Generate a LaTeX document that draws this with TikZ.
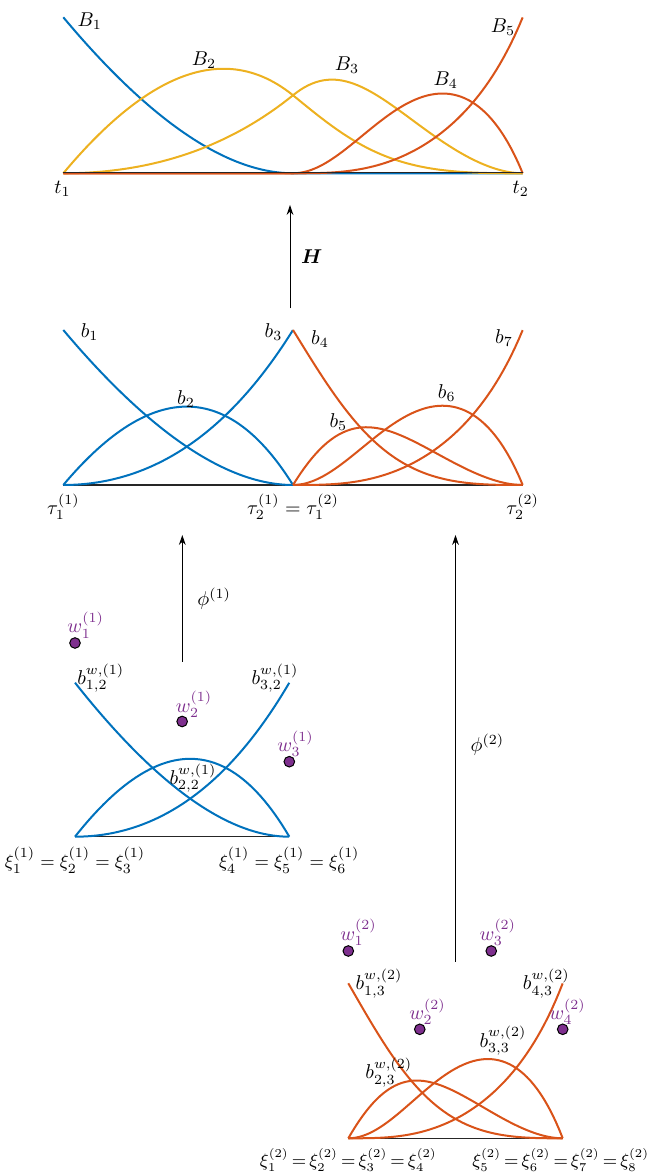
\documentclass[tikz,border=0pt]{standalone}
\usepackage{amsmath,amssymb}
\usepackage{tikz}
\usetikzlibrary{positioning,arrows.meta,calc}
\definecolor{mblue}{RGB}{0,114,189}
\definecolor{morange}{RGB}{217,83,25}
\definecolor{myellow}{RGB}{237,177,32}
\definecolor{mpurple}{RGB}{126,47,142}
\newcommand{\tighteq}{\thickmuskip=3mu\relax}
% rational Bernstein bases (degree 2 and degree 3)
\tikzset{declare function={
  dl(\x)=(1-\x)*(1-\x)+1.76*\x*(1-\x)+0.74*\x*\x;
  qa(\x)=(1-\x)*(1-\x)/dl(\x);
  qb(\x)=1.76*\x*(1-\x)/dl(\x);
  qc(\x)=0.74*\x*\x/dl(\x);
  dr(\x)=(1-\x)*(1-\x)*(1-\x)+2.4*\x*(1-\x)*(1-\x)+3.6*\x*\x*(1-\x)+\x*\x*\x;
  ca(\x)=(1-\x)*(1-\x)*(1-\x)/dr(\x);
  cb(\x)=2.4*\x*(1-\x)*(1-\x)/dr(\x);
  cc(\x)=3.6*\x*\x*(1-\x)/dr(\x);
  cd(\x)=\x*\x*\x/dr(\x);
}}

\begin{document}
\begin{tikzpicture}[
  x=0.5pt,y=0.5pt,
  >={Stealth[length=5pt,width=3.4pt]},
  dom/.style={domain=0:1,samples=61},
  bl/.style={line width=1pt,mblue},
  rl/.style={line width=1pt,morange},
  yl/.style={line width=1pt,myellow},
  ax/.style={line width=0.6pt,black!85},
  arr/.style={->,line width=0.5pt},
  lbl/.style={inner sep=0pt},
  xlbl/.style={inner sep=0pt,font=\fontsize{9.3}{11}\selectfont},
  xlblw/.style={inner sep=0pt,font=\fontsize{9}{11}\selectfont},
  wlbl/.style={inner sep=0pt,text=mpurple},
  wdot/.style={circle,draw=black,line width=0.5pt,fill=mpurple,minimum size=5.3pt,inner sep=0pt}
]
\useasboundingbox (0,0) rectangle (654,1176);

% --- top: smooth basis B_i on [t_1,t_2] ---
\begin{scope}[shift={(63.3,1002.7)}]
  \def\pw{229.7}\def\ph{156}
  \draw[bl] plot[dom] ({\pw*\x},{\ph*qa(\x)}) -- (2*\pw,0);
  \draw[yl] plot[dom] ({\pw*\x},{\ph*(qb(\x)+0.5*qc(\x))})
         -- plot[dom] ({\pw+\pw*\x},{\ph*0.5*ca(\x)});
  \draw[yl] plot[dom] ({\pw*\x},{\ph*0.5*qc(\x)})
         -- plot[dom] ({\pw+\pw*\x},{\ph*(0.5*ca(\x)+cb(\x))});
  \draw[rl] (0,0) -- plot[dom] ({\pw+\pw*\x},{\ph*cc(\x)});
  \draw[rl] (0,0) -- plot[dom] ({\pw+\pw*\x},{\ph*cd(\x)});
  \draw[ax] (0,0.6) -- (2*\pw,0.6);
  \node[lbl] (B1) at (26.4,152.5) {$B_1$};
  \node[lbl] (B2) at (140.7,113.3) {$B_2$};
  \node[lbl] (B3) at (283.7,108.3) {$B_3$};
  \node[lbl] (B4) at (382.5,93.3) {$B_4$};
  \node[lbl] (B5) at (439.7,146.6) {$B_5$};
  \node[lbl] (t1) at (-0.8,-15.2) {$t_1$};
  \node[lbl] (t2) at (457.5,-15.2) {$t_2$};
\end{scope}

% --- arrow H ---
\coordinate (Hfrom) at (290,867.7);
\coordinate (Hto) at (290,971);
\draw[arr] (Hfrom) -- node[right=2pt] (Hlab) {$\boldsymbol{H}$} (Hto);

% --- middle: Bernstein pieces b_i ---
\begin{scope}[shift={(63.3,691)}]
  \def\pw{229.7}\def\ph{155}
  \draw[ax] (0,0) -- (2*\pw,0);
  \draw[bl] plot[dom] ({\pw*\x},{\ph*qa(\x)});
  \draw[bl] plot[dom] ({\pw*\x},{\ph*qb(\x)});
  \draw[bl] plot[dom] ({\pw*\x},{\ph*qc(\x)});
  \draw[rl] plot[dom] ({\pw+\pw*\x},{\ph*ca(\x)});
  \draw[rl] plot[dom] ({\pw+\pw*\x},{\ph*cb(\x)});
  \draw[rl] plot[dom] ({\pw+\pw*\x},{\ph*cc(\x)});
  \draw[rl] plot[dom] ({\pw+\pw*\x},{\ph*cd(\x)});
  \node[lbl] (b1) at (26.3,152.5) {$b_1$};
  \node[lbl] (b2) at (122.7,86) {$b_2$};
  \node[lbl] (b3) at (210.2,152.5) {$b_3$};
  \node[lbl] (b4) at (256.7,145.8) {$b_4$};
  \node[lbl] (b5) at (275,63.3) {$b_5$};
  \node[lbl] (b6) at (383.4,91.7) {$b_6$};
  \node[lbl] (b7) at (440.7,147) {$b_7$};
  \node[lbl] (tau1) at (0,-21.7) {$\tau_1^{(1)}$};
  \node[lbl] (tau2) at (\pw,-21.7) {$\tau_2^{(1)}=\tau_1^{(2)}$};
  \node[lbl] (tau3) at (2*\pw,-21.7) {$\tau_2^{(2)}$};
\end{scope}

% --- arrows phi ---
\coordinate (P1from) at (182.3,514.3);
\coordinate (P1to) at (182.3,641);
\draw[arr] (P1from) -- node[right=4pt] (P1lab) {$\phi^{(1)}$} (P1to);
\coordinate (P2from) at (455.5,214.3);
\coordinate (P2to) at (455.5,641);
\draw[arr] (P2from) -- node[right=4pt,yshift=1.7pt] (P2lab) {$\phi^{(2)}$} (P2to);

% --- bottom left: weighted quadratic ---
\begin{scope}[shift={(75,339.3)}]
  \def\pw{214.3}\def\ph{154}
  \draw[ax] (0,0) -- (\pw,0);
  \draw[bl] plot[dom] ({\pw*\x},{\ph*qa(\x)});
  \draw[bl] plot[dom] ({\pw*\x},{\ph*qb(\x)});
  \draw[bl] plot[dom] ({\pw*\x},{\ph*qc(\x)});
  \node[wdot] (wa1) at (0,193.7) {};
  \node[wdot] (wa2) at (0.5*\pw,115.2) {};
  \node[wdot] (wa3) at (\pw,75) {};
  \node[wlbl] (wa1lab) at (10.6,211.7) {$w_1^{(1)}$};
  \node[wlbl] (wa2lab) at (119,132.3) {$w_2^{(1)}$};
  \node[wlbl] (wa3lab) at (220.5,92.9) {$w_3^{(1)}$};
  \node[lbl] (ba1) at (25.7,158.7) {$b_{1,2}^{w,(1)}$};
  \node[lbl] (ba2) at (118,58.7) {$b_{2,2}^{w,(1)}$};
  \node[lbl] (ba3) at (200,158.7) {$b_{3,2}^{w,(1)}$};
  \node[xlbl] (xia) at (0,-23.3) {$\xi_1^{(1)}=\xi_2^{(1)}=\xi_3^{(1)}$};
  \node[xlbl] (xib) at (\pw,-23.3) {$\xi_4^{(1)}=\xi_5^{(1)}=\xi_6^{(1)}$};
\end{scope}

% --- bottom right: weighted cubic ---
\begin{scope}[shift={(348.3,37.7)}]
  \def\pw{214.4}\def\ph{155}
  \draw[ax] (0,0) -- (\pw,0);
  \draw[rl] plot[dom] ({\pw*\x},{\ph*ca(\x)});
  \draw[rl] plot[dom] ({\pw*\x},{\ph*cb(\x)});
  \draw[rl] plot[dom] ({\pw*\x},{\ph*cc(\x)});
  \draw[rl] plot[dom] ({\pw*\x},{\ph*cd(\x)});
  \node[wdot] (wb1) at (0,187.3) {};
  \node[wdot] (wb2) at (\pw/3,109) {};
  \node[wdot] (wb3) at (2*\pw/3,187.3) {};
  \node[wdot] (wb4) at (\pw,109) {};
  \node[wlbl] (wb1lab) at (10.2,205.8) {$w_1^{(2)}$};
  \node[wlbl] (wb2lab) at (79.2,126.6) {$w_2^{(2)}$};
  \node[wlbl] (wb3lab) at (149.5,205.8) {$w_3^{(2)}$};
  \node[wlbl] (wb4lab) at (219.2,126.6) {$w_4^{(2)}$};
  \node[lbl] (bb1) at (30.7,155) {$b_{1,3}^{w,(2)}$};
  \node[lbl] (bb2) at (40.5,65.8) {$b_{2,3}^{w,(2)}$};
  \node[lbl] (bb3) at (154.7,97.5) {$b_{3,3}^{w,(2)}$};
  \node[lbl] (bb4) at (198,155) {$b_{4,3}^{w,(2)}$};
  \node[xlblw] (xic) at (0,-21.7) {$\tighteq\xi_1^{(2)}=\xi_2^{(2)}=\xi_3^{(2)}=\xi_4^{(2)}$};
  \node[xlblw] (xid) at (\pw-2,-21.7) {$\tighteq\xi_5^{(2)}=\xi_6^{(2)}=\xi_7^{(2)}=\xi_8^{(2)}$};
\end{scope}
\end{tikzpicture}
\end{document}
